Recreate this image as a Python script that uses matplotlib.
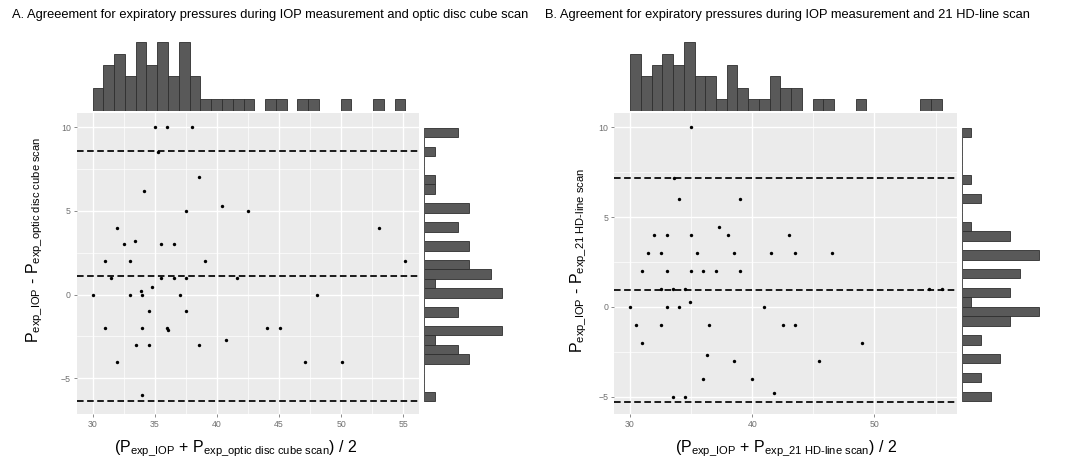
import numpy as np
import matplotlib
matplotlib.use("Agg")
import matplotlib.pyplot as plt

plt.rcParams['font.family'] = ['Liberation Sans', 'DejaVu Sans']
plt.rcParams['mathtext.fontset'] = 'custom'
plt.rcParams['mathtext.rm'] = 'Liberation Sans'
plt.rcParams['mathtext.it'] = 'Liberation Sans:italic'
plt.rcParams['mathtext.bf'] = 'Liberation Sans:bold'

# ---- Panel A: IOP vs optic disc cube scan ----
a_mean = [30.0, 31.0, 31.0, 31.5, 32.0, 32.0, 32.55, 33.0, 33.0, 33.45, 33.5, 33.9,
          34.0, 34.0, 34.0, 34.1, 34.5, 34.5, 34.8, 35.0, 35.25, 35.5, 35.5, 36.0,
          36.0, 36.1, 36.55, 36.55, 37.05, 37.55, 37.55, 37.55, 38.0, 38.55, 38.55,
          39.05, 40.4, 40.75, 41.6, 42.5, 44.0, 45.05, 47.1, 48.05, 50.05, 53.05, 55.15]
a_diff = [0, 2, -2, 1, 4, -4, 3, 2, 0, 3.2, -3, 0.2,
          0, -2, -6, 6.2, -1, -3, 0.45, 10, 8.5, 3, 1, 10,
          -2, -2.1, 3, 1, 0, 5, 1, -1, 10, 7, -3,
          2, 5.3, -2.7, 1, 5, -2, -2, -4, 0, -4, 4, 2]
a_loa = [8.58, 1.1, -6.36]
a_top_counts = [2, 4, 5, 3, 6, 4, 6, 3, 6, 3, 1, 1, 1, 1, 1, 0, 1, 1, 0, 1, 1,
                0, 0, 1, 0, 0, 1, 0, 1]
a_top_range = (30.0, 55.15)
a_right_counts = [1, 0, 0, 0, 4, 3, 1, 7, 0, 3, 0, 7, 1, 6, 4, 0, 4, 0, 3, 0, 4,
                  0, 1, 1, 0, 0, 1, 0, 3]
a_right_range = (-6.38, 9.96)

# ---- Panel B: IOP vs 21 HD-line scan ----
b_mean = [30.0, 30.5, 31.0, 31.0, 31.5, 32.0, 32.5, 32.5, 32.5, 33.0, 33.0, 33.0,
          33.5, 33.5, 33.6, 34.0, 34.0, 34.5, 34.5, 34.9, 35.0, 35.0, 35.0, 35.5,
          36.0, 36.0, 36.3, 36.5, 37.0, 37.25, 38.0, 38.5, 38.5, 39.0, 39.0, 40.0,
          41.0, 41.5, 41.75, 42.5, 43.0, 43.5, 43.5, 45.5, 46.5, 49.0, 54.5, 55.5]
b_diff = [0, -1, 2, -2, 3, 4, 3, 1, -1, 4, 2, 0,
          1, -5, 7.2, 6, 0, 1, -5, 0.3, 10, 4, 2, 3,
          2, -4, -2.65, -1, 2, 4.45, 4, 3, -3, 6, 2, -4,
          0, 3, -4.8, -1, 4, 3, -1, -3, 3, -2, 1, 1]
b_loa = [7.17, 0.95, -5.3]
b_top_counts = [5, 3, 4, 5, 4, 6, 3, 3, 1, 4, 2, 1, 1, 3, 2, 2, 0, 1, 1, 0, 0,
                1, 0, 0, 0, 0, 0, 1, 1]
b_top_range = (30.0, 55.5)
b_right_counts = [3, 0, 2, 0, 4, 0, 2, 0, 5, 8, 1, 5, 0, 6, 0, 8, 0, 5, 1, 0, 0,
                  2, 0, 1, 0, 0, 0, 0, 1]
b_right_range = (-5.24, 9.99)

W, H = 1081, 463
fig = plt.figure(figsize=(W / 100, H / 100), dpi=100)


def rect(x0, y0, x1, y1):
    return [x0 / W, 1 - y1 / H, (x1 - x0) / W, (y1 - y0) / H]


BAR_FC = '#595959'
BAR_EC = '#2e2e2e'


def ggplot_panel(ax, xlim, ylim, xmaj, xmin, ymaj, ymin):
    ax.set_facecolor('#EBEBEB')
    for s in ax.spines.values():
        s.set_visible(False)
    ax.set_xlim(xlim)
    ax.set_ylim(ylim)
    ax.set_xticks(xmaj)
    ax.set_xticks(xmin, minor=True)
    ax.set_yticks(ymaj)
    ax.set_yticks(ymin, minor=True)
    ax.grid(True, which='major', color='white', lw=1.0)
    ax.grid(True, which='minor', color='white', lw=0.5)
    ax.set_axisbelow(True)
    ax.tick_params(which='major', length=2, width=0.6, color='#777777',
                   labelsize=6.3, labelcolor='#707070', pad=2.5)
    ax.tick_params(which='minor', length=0)


def draw_panel(main, top, right, mean, diff, loa, tcounts, trange, rcounts, rrange, tunit, runit):
    main.scatter(mean, diff, s=6, color='black', zorder=3, linewidths=0)
    for v in loa:
        main.axhline(v, color='#1a1a1a', lw=1.4, linestyle=(0, (3.4, 1.8)), zorder=2)

    edges = np.linspace(trange[0], trange[1], len(tcounts) + 1)
    top.bar(edges[:-1], tcounts, width=np.diff(edges), align='edge',
            color=BAR_FC, edgecolor=BAR_EC, lw=0.6)
    top.plot([trange[0], trange[1]], [0, 0], color='#555555', lw=0.6)
    top.set_xlim(main.get_xlim())
    top.set_ylim(0, tunit)
    top.axis('off')

    edges = np.linspace(rrange[0], rrange[1], len(rcounts) + 1)
    right.barh(edges[:-1], rcounts, height=np.diff(edges), align='edge',
               color=BAR_FC, edgecolor=BAR_EC, lw=0.6)
    right.plot([0, 0], [rrange[0], rrange[1]], color='#555555', lw=0.6)
    right.set_ylim(main.get_ylim())
    right.set_xlim(0, runit)
    right.axis('off')


# panel A
axA = fig.add_axes(rect(77, 113, 419, 413.5))
ggplot_panel(axA, (28.75, 56.25), (-7.1, 10.85),
             [30, 35, 40, 45, 50, 55], [32.5, 37.5, 42.5, 47.5, 52.5],
             [-5, 0, 5, 10], [-2.5, 2.5, 7.5])
axA_top = fig.add_axes(rect(77, 36, 419, 110.7))
axA_right = fig.add_axes(rect(424, 113, 510, 413.5))
draw_panel(axA, axA_top, axA_right, a_mean, a_diff, a_loa,
           a_top_counts, a_top_range, a_right_counts, a_right_range,
           (110.7 - 36) / 11.43, (510 - 424) / 11.17)

# panel B
axB = fig.add_axes(rect(614.4, 113, 957.3, 413.5))
ggplot_panel(axB, (28.72, 56.78), (-5.93, 10.8),
             [30, 40, 50], [35, 45, 55],
             [-5, 0, 5, 10], [-2.5, 2.5, 7.5])
axB_top = fig.add_axes(rect(614.4, 36, 957.3, 110.7))
axB_right = fig.add_axes(rect(961.7, 113, 1050, 413.5))
draw_panel(axB, axB_top, axB_right, b_mean, b_diff, b_loa,
           b_top_counts, b_top_range, b_right_counts, b_right_range,
           (110.7 - 36) / 11.43, (1050 - 961.7) / 9.67)

# titles
fig.text(12 / W, 1 - 15 / H, 'A. Agreeement for expiratory pressures during IOP measurement and optic disc cube scan',
         fontsize=9.3, va='center', ha='left')
fig.text(545 / W, 1 - 15 / H, 'B. Agreement for expiratory pressures during IOP measurement and 21 HD-line scan',
         fontsize=9.3, va='center', ha='left')

# axis labels
fig.text(34 / W, 1 - 240 / H,
         r'$\mathrm{P}_{\mathrm{exp\_IOP}}$ - $\mathrm{P}_{\mathrm{exp\_optic\ disc\ cube\ scan}}$',
         fontsize=11.5, rotation=90, ha='center', va='center')
fig.text(236 / W, 1 - 448 / H,
         r'($\mathrm{P}_{\mathrm{exp\_IOP}}$ + $\mathrm{P}_{\mathrm{exp\_optic\ disc\ cube\ scan}}$) / 2',
         fontsize=11.5, ha='center', va='center')
fig.text(578 / W, 1 - 260 / H,
         r'$\mathrm{P}_{\mathrm{exp\_IOP}}$ - $\mathrm{P}_{\text{exp\_21 HD-line scan}}$',
         fontsize=11.5, rotation=90, ha='center', va='center')
fig.text(786 / W, 1 - 448 / H,
         r'($\mathrm{P}_{\mathrm{exp\_IOP}}$ + $\mathrm{P}_{\text{exp\_21 HD-line scan}}$) / 2',
         fontsize=11.5, ha='center', va='center')

fig.savefig('out.png', dpi=100, facecolor='white')
